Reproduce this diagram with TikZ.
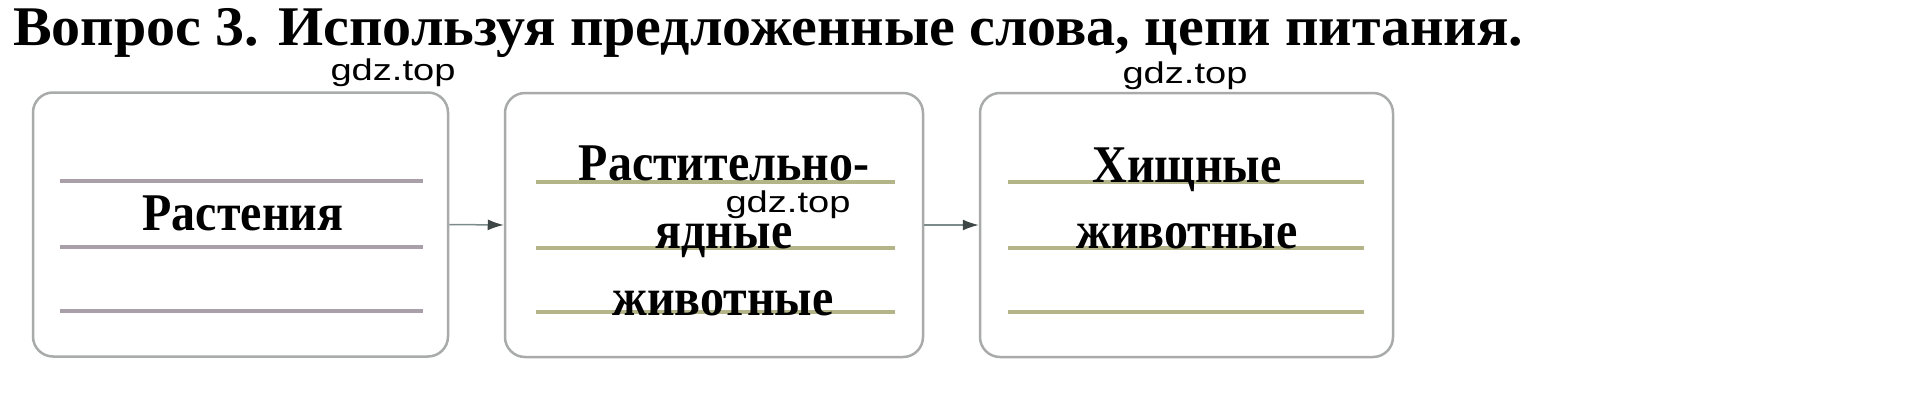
\documentclass[tikz,border=0pt]{standalone}
\usepackage{fontspec}
\setmainfont{Liberation Serif}
\newfontfamily\wmfont{Liberation Sans}
\usepackage{tikz}
\usetikzlibrary{arrows.meta}
\definecolor{cardgray}{HTML}{A9ABAB}
\definecolor{rulemauve}{HTML}{A99FA8}
\definecolor{ruleolive}{HTML}{B3B487}
\definecolor{linkgray}{HTML}{7C8A8A}
\definecolor{tipgray}{HTML}{3E4646}
\newcommand{\narrowword}[1]{\scalebox{0.905}[1]{#1}}
\newcommand{\wmtext}{\scalebox{1.27}[1]{gdz.top}}

\begin{document}
\begin{tikzpicture}[x=1pt,y=-1pt,
	card/.style={draw=cardgray,line width=2.5pt,rounded corners=20pt,minimum width=#1,minimum height=264pt,inner sep=0pt},
	word/.style={anchor=base,font=\fontsize{53}{60}\bfseries},
	wm/.style={anchor=base,font=\fontsize{30}{34}\wmfont},
	link/.style={draw=linkgray,line width=1.5pt,-{Latex[length=16pt,width=11pt,color=tipgray]}}]
	\useasboundingbox (0,0) rectangle (1930,407);
	\node[anchor=base west,inner sep=0pt,font=\fontsize{56}{62}\bfseries] (title) at (13,45) {\scalebox{1.036}[1]{Вопрос 3. Используя предложенные слова, цепи питания.}};
	\node[card=415pt] (plants) at (240.5,224.5) {};
	\node[card=418pt] (herb) at (714,225) {};
	\node[card=413pt] (pred) at (1186.5,225) {};
	\draw[rulemauve,line width=3.5pt] (60,181) -- (423,181);
	\draw[rulemauve,line width=3.5pt] (60,247) -- (423,247);
	\draw[rulemauve,line width=3.5pt] (60,311) -- (423,311);
	\draw[ruleolive,line width=3.5pt] (536,182) -- (895,182);
	\draw[ruleolive,line width=3.5pt] (536,248) -- (895,248);
	\draw[ruleolive,line width=3.5pt] (536,312) -- (895,312);
	\draw[ruleolive,line width=3.5pt] (1008,182) -- (1364,182);
	\draw[ruleolive,line width=3.5pt] (1008,248) -- (1364,248);
	\draw[ruleolive,line width=3.5pt] (1008,312) -- (1364,312);
	\node[word] (plantsname) at (243,230) {\narrowword{Растения}};
	\node[word] (herbname1) at (724,180) {\narrowword{Растительно-}};
	\node[word] (herbname2) at (724,248) {\narrowword{ядные}};
	\node[word] (herbname3) at (723,315) {\narrowword{животные}};
	\node[word] (predname1) at (1187,182) {\narrowword{Хищные}};
	\node[word] (predname2) at (1187,248) {\narrowword{животные}};
	\node[wm] (wm1) at (393,80) {\wmtext};
	\node[wm] (wm2) at (788,212) {\wmtext};
	\node[wm] (wm3) at (1185,83) {\wmtext};
	\draw[link] (plants.east) -- (herb.west);
	\draw[link] (herb.east) -- (pred.west);
\end{tikzpicture}
\end{document}
